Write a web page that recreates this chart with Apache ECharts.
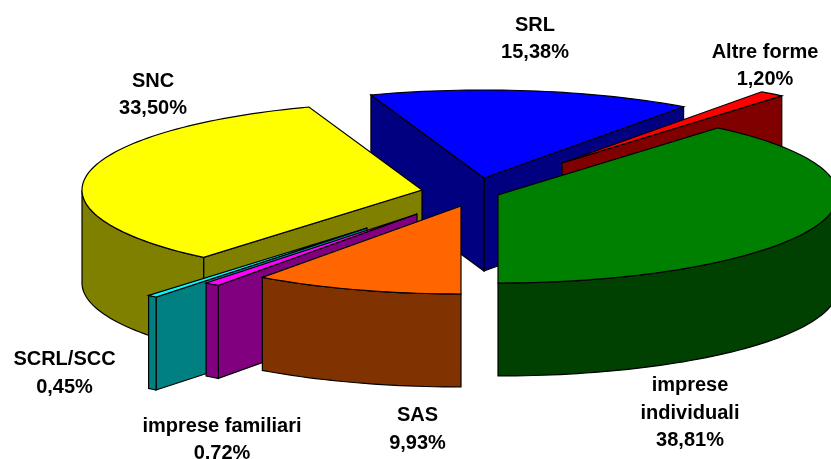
<!DOCTYPE html>
<html>
<head>
<meta charset="utf-8">
<style>
  html, body { margin: 0; padding: 0; background: #fff; }
  #main { width: 831px; height: 459px; }
</style>
<script src="https://cdn.jsdelivr.net/npm/echarts@6/dist/echarts.min.js"></script>
</head>
<body>
<div id="main"></div>
<script>
// slices in the order they run round the pie, starting from the front
var categories = ['imprese\nindividuali', 'Altre forme', 'SRL', 'SNC', 'SCRL/SCC', 'imprese familiari', 'SAS'];
var shares = [38.81, 1.20, 15.38, 33.50, 0.45, 0.72, 9.93];

var topColors = ['#008000', '#ff0000', '#0000ff', '#ffff00', '#00ffff', '#ff00ff', '#ff6600'];
var sideColors = ['#004000', '#800000', '#000080', '#808000', '#008080', '#800080', '#803300'];

// pie geometry
var centerX = 461, centerY = 190;
var radiusX = 340, radiusY = 88, depth = 93;
var startAngle = 270;
var explodeX = [37, 101, 23, -39, -94, -44, 0];
var explodeY = [5, -27, -12, 0, 38, 24, 16];
var labelX = [690, 765, 535, 153, 64.5, 222, 417.5];
var labelY = [413, 66, 39, 95, 373.5, 440, 429.5];
var drawOrder = [2, 1, 0, 3, 4, 5, 6];

var total = shares.reduce(function (a, b) { return a + b; }, 0);

function rimPoint(ax, ay, deg, drop) {
  var r = deg * Math.PI / 180;
  return [ax + radiusX * Math.cos(r), ay - radiusY * Math.sin(r) + drop];
}

function arcPoints(ax, ay, from, to, drop) {
  var pts = [];
  var steps = Math.max(2, Math.ceil((to - from) / 1.5));
  for (var i = 0; i <= steps; i++) {
    pts.push(rimPoint(ax, ay, from + (to - from) * i / steps, drop));
  }
  return pts;
}

function face(points, color) {
  return {
    type: 'polygon',
    shape: { points: points },
    style: { fill: color, stroke: '#000', lineWidth: 1.2 }
  };
}

function radialWall(ax, ay, deg, color) {
  var rim = rimPoint(ax, ay, deg, 0);
  return face([[ax, ay], rim, [rim[0], rim[1] + depth], [ax, ay + depth]], color);
}

function renderSlice(params, api) {
  var idx = api.value(1);
  var before = 0;
  for (var i = 0; i < idx; i++) before += shares[i];
  var from = startAngle + before / total * 360;
  var to = from + api.value(0) / total * 360;
  var ax = centerX + explodeX[idx];
  var ay = centerY + explodeY[idx];
  var side = sideColors[idx];
  var children = [];

  // cut faces, only those turned towards the viewer
  if (Math.cos(from * Math.PI / 180) > 0.001) children.push(radialWall(ax, ay, from, side));
  if (Math.cos(to * Math.PI / 180) < -0.001) children.push(radialWall(ax, ay, to, side));

  // outer wall, only on the front half of the rim
  [[180, 360], [540, 720]].forEach(function (front) {
    var a = Math.max(from, front[0]);
    var b = Math.min(to, front[1]);
    if (b > a) {
      var upper = arcPoints(ax, ay, a, b, 0);
      var lower = arcPoints(ax, ay, a, b, depth).reverse();
      children.push(face(upper.concat(lower), side));
    }
  });

  children.push(face([[ax, ay]].concat(arcPoints(ax, ay, from, to, 0)), topColors[idx]));
  return { type: 'group', children: children };
}

function renderLabel(params, api) {
  var idx = api.value(1);
  var pct = api.value(0).toFixed(2).replace('.', ',') + '%';
  return {
    type: 'text',
    style: {
      text: categories[idx] + '\n' + pct,
      x: labelX[idx],
      y: labelY[idx],
      align: 'center',
      verticalAlign: 'middle',
      fill: '#000',
      font: 'bold 20px "Liberation Sans", Arial, sans-serif',
      lineHeight: 27.5
    }
  };
}

var chart = echarts.init(document.getElementById('main'), null, { renderer: 'canvas' });
var sliceData = drawOrder.map(function (i) { return [shares[i], i]; });

chart.setOption({
  backgroundColor: '#fff',
  animation: false,
  series: [
    { type: 'custom', coordinateSystem: 'none', silent: true, clip: false, renderItem: renderSlice, data: sliceData, z: 1 },
    { type: 'custom', coordinateSystem: 'none', silent: true, clip: false, renderItem: renderLabel, data: sliceData, z: 2 }
  ]
});
</script>
</body>
</html>
